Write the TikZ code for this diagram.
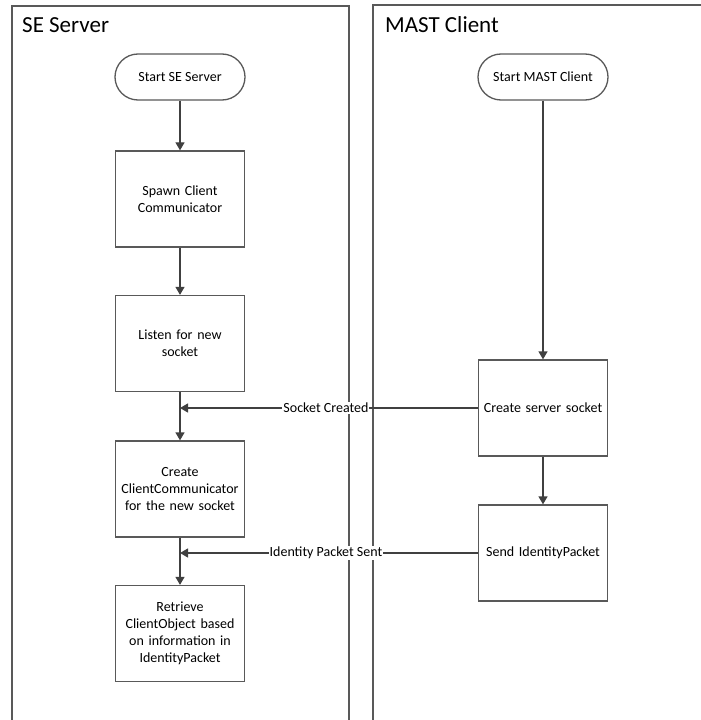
\documentclass[tikz,border=0pt]{standalone}
\usepackage{fontspec}
\setmainfont{Carlito}
\usetikzlibrary{arrows.meta}
\definecolor{lanegray}{HTML}{595959}
\definecolor{linegray}{HTML}{404040}
\begin{document}
\begin{tikzpicture}[x=1bp,y=-1bp,
  every node/.style={font=\fontsize{14bp}{17bp}\selectfont, text=black},
  lane/.style={draw=lanegray, line width=1.4bp},
  lanetitle/.style={font=\fontsize{23bp}{27bp}\selectfont, anchor=base west, inner sep=0},
  procbox/.style={draw=lanegray, line width=1.3bp, minimum width=129bp, minimum height=96bp, inner sep=2bp, align=center, text width=120bp},
  termbox/.style={draw=lanegray, line width=1.3bp, rounded corners=23bp, minimum width=130bp, minimum height=46bp, inner sep=2bp},
  flow/.style={draw=linegray, line width=1.3bp, -{Triangle[length=8bp,width=9bp]}},
  msglabel/.style={fill=white, inner sep=1bp}
]
\useasboundingbox (0,0) rectangle (701,720);
\clip (0,0) rectangle (701,720);
\fill[white] (0,0) rectangle (701,720);

% lanes
\draw[lane] (12,6) rectangle (349,740);
\draw[lane] (373,5) rectangle (740,740);
\node[lanetitle] (t1) at (22,33) {SE Server};
\node[lanetitle] (t2) at (385,33) {MAST Client};

% SE Server lane
\node[termbox] (s1) at (180,77) {Start SE Server};
\node[procbox] (spawn) at (180,199) {Spawn Client\\Communicator};
\node[procbox] (listen) at (180,343.5) {Listen for new\\socket};
\node[procbox] (ccomm) at (180,489) {Create\\ClientCommunicator\\for the new socket};
\node[procbox] (retr) at (180,633.5) {Retrieve\\ClientObject based\\on information in\\IdentityPacket};

% MAST Client lane
\node[termbox] (s2) at (543,77) {Start MAST Client};
\node[procbox] (css) at (543,408) {Create server socket};
\node[procbox] (sip) at (543,553) {Send IdentityPacket};

% vertical flows
\draw[flow] (s1) -- (spawn);
\draw[flow] (spawn) -- (listen);
\draw[flow] (listen) -- (ccomm);
\draw[flow] (ccomm) -- (retr);
\draw[flow] (s2) -- (css);
\draw[flow] (css) -- (sip);

% messages
\coordinate (m1) at (180,408);
\coordinate (m2) at (180,553);
\draw[flow] (css.west) -- (m1 -| listen.south) node[msglabel, pos=0.51] (lab1) {Socket Created};
\draw[flow] (sip.west) -- (m2 -| ccomm.south) node[msglabel, pos=0.51] (lab2) {Identity Packet Sent};
\end{tikzpicture}
\end{document}
